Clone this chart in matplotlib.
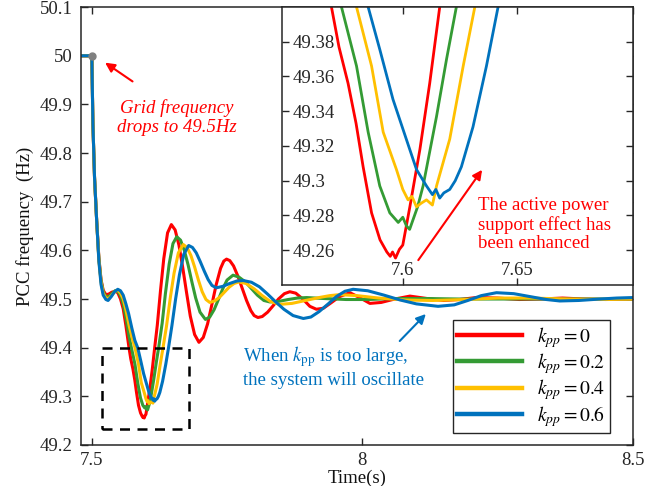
import matplotlib
matplotlib.use("Agg")
import matplotlib.pyplot as plt

plt.rcParams['font.family'] = ['Liberation Serif', 'DejaVu Serif']
plt.rcParams['mathtext.fontset'] = 'stix'

# ---------------- data ----------------
t_red = [7.48, 7.50, 7.502, 7.505, 7.509, 7.513, 7.517, 7.521, 7.526, 7.531, 7.537, 7.543, 7.548,
         7.553, 7.558, 7.563, 7.5687, 7.572, 7.576, 7.5795, 7.5826, 7.5863, 7.59, 7.593, 7.5945,
         7.5955, 7.5968, 7.5985, 7.600, 7.6031, 7.6075, 7.6118, 7.6162, 7.621, 7.627, 7.633, 7.640,
         7.647, 7.654, 7.661, 7.668, 7.675, 7.682, 7.690, 7.698, 7.706, 7.714, 7.722, 7.730, 7.738,
         7.744, 7.749, 7.755, 7.762, 7.770, 7.778, 7.786, 7.794, 7.800, 7.807, 7.815, 7.825, 7.835,
         7.845, 7.856, 7.866, 7.877, 7.890, 7.903, 7.915, 7.928, 7.942, 7.958, 7.977, 7.995, 8.014,
         8.035, 8.06, 8.088, 8.12, 8.15, 8.18, 8.21, 8.25, 8.29, 8.33, 8.37, 8.41, 8.45, 8.5]
f_red = [50.0, 50.0, 49.86, 49.75, 49.66, 49.585, 49.54, 49.518, 49.509, 49.510, 49.514, 49.516, 49.513,
         49.50, 49.48, 49.445, 49.40, 49.377, 49.356, 49.333, 49.308, 49.2815, 49.266, 49.259, 49.2565,
         49.259, 49.2555, 49.2605, 49.263, 49.285, 49.318, 49.356, 49.40, 49.446, 49.518, 49.583, 49.636,
         49.653, 49.642, 49.611, 49.565, 49.514, 49.465, 49.427, 49.411, 49.421, 49.449, 49.489, 49.530, 49.563,
         49.578, 49.582, 49.579, 49.568, 49.547, 49.522, 49.497, 49.476, 49.466, 49.462, 49.464, 49.473, 49.486,
         49.500, 49.511, 49.515, 49.512, 49.500, 49.485, 49.479, 49.481, 49.492, 49.505, 49.513, 49.503, 49.491,
         49.493, 49.500, 49.506, 49.501, 49.497, 49.499, 49.503, 49.502, 49.499, 49.500, 49.502, 49.500, 49.499, 49.500]

t_green = [7.48, 7.50, 7.502, 7.505, 7.509, 7.513, 7.517, 7.521, 7.526, 7.531, 7.537, 7.543, 7.548,
           7.553, 7.558, 7.563, 7.5685, 7.5731, 7.5797, 7.5848, 7.5899, 7.5943, 7.598, 7.600, 7.6016,
           7.603, 7.6045, 7.6065, 7.6089, 7.6148, 7.6192, 7.6235, 7.630, 7.636, 7.643, 7.650, 7.657,
           7.664, 7.671, 7.678, 7.685, 7.692, 7.700, 7.710, 7.718, 7.726, 7.734, 7.742, 7.750, 7.761,
           7.772, 7.784, 7.795, 7.806, 7.818, 7.829, 7.845, 7.863, 7.880, 7.897, 7.93, 7.97, 8.01,
           8.06, 8.12, 8.18, 8.25, 8.33, 8.41, 8.5]
f_green = [50.0, 50.0, 49.86, 49.75, 49.66, 49.583, 49.538, 49.515, 49.505, 49.505, 49.511, 49.517, 49.516,
           49.507, 49.49, 49.462, 49.425, 49.40, 49.366, 49.328, 49.297, 49.2815, 49.276, 49.279, 49.274,
           49.272, 49.2776, 49.285, 49.297, 49.337, 49.37, 49.40, 49.45, 49.511, 49.572, 49.614, 49.628,
           49.621, 49.600, 49.570, 49.535, 49.502, 49.473, 49.458, 49.463, 49.478, 49.499, 49.521, 49.539, 49.549,
           49.545, 49.535, 49.5215, 49.508, 49.497, 49.494, 49.495, 49.499, 49.502, 49.503, 49.501, 49.499, 49.499,
           49.501, 49.501, 49.500, 49.500, 49.500, 49.500, 49.500]

t_yellow = [7.48, 7.50, 7.502, 7.505, 7.509, 7.513, 7.517, 7.521, 7.526, 7.531, 7.537, 7.543, 7.548,
            7.553, 7.558, 7.563, 7.569, 7.575, 7.5797, 7.5863, 7.5914, 7.5972, 7.600, 7.6023, 7.604,
            7.606, 7.608, 7.6104, 7.613, 7.6148, 7.6206, 7.6265, 7.6316, 7.638, 7.645, 7.652, 7.660,
            7.669, 7.676, 7.683, 7.690, 7.697, 7.704, 7.711, 7.718, 7.727, 7.736, 7.745, 7.754, 7.763,
            7.772, 7.785, 7.800, 7.815, 7.830, 7.847, 7.87, 7.895, 7.92, 7.94, 7.958, 7.99, 8.03,
            8.08, 8.13, 8.19, 8.25, 8.31, 8.38, 8.44, 8.5]
f_yellow = [50.0, 50.0, 49.86, 49.75, 49.66, 49.58, 49.535, 49.512, 49.502, 49.501, 49.508, 49.516, 49.518,
            49.512, 49.50, 49.478, 49.445, 49.418, 49.40, 49.366, 49.328, 49.3065, 49.295, 49.289, 49.291,
            49.285, 49.287, 49.289, 49.286, 49.297, 49.324, 49.366, 49.40, 49.444, 49.502, 49.553, 49.595,
            49.612, 49.606, 49.590, 49.566, 49.539, 49.515, 49.499, 49.493, 49.496, 49.5035, 49.514, 49.5245, 49.532,
            49.535, 49.532, 49.521, 49.507, 49.495, 49.489, 49.491, 49.497, 49.503, 49.507, 49.509, 49.507, 49.502,
            49.498, 49.497, 49.499, 49.502, 49.502, 49.500, 49.499, 49.500]

t_blue = [7.48, 7.50, 7.502, 7.505, 7.509, 7.513, 7.517, 7.521, 7.526, 7.530, 7.536, 7.542, 7.548,
          7.553, 7.558, 7.563, 7.568, 7.574, 7.5795, 7.5848, 7.5899, 7.5957, 7.6016, 7.606, 7.6104,
          7.613, 7.6145, 7.6162, 7.618, 7.6206, 7.623, 7.6257, 7.6308, 7.6367, 7.6418, 7.648, 7.655,
          7.662, 7.670, 7.679, 7.686, 7.693, 7.700, 7.708, 7.715, 7.722, 7.730, 7.742, 7.755, 7.768,
          7.780, 7.795, 7.810, 7.825, 7.840, 7.855, 7.872, 7.891, 7.905, 7.920, 7.937, 7.952, 7.968,
          7.983, 8.01, 8.04, 8.07, 8.10, 8.14, 8.17, 8.195, 8.22, 8.248, 8.28, 8.31, 8.34, 8.365,
          8.40, 8.44, 8.47, 8.5]
f_blue = [50.0, 50.0, 49.86, 49.75, 49.66, 49.578, 49.53, 49.508, 49.499, 49.497, 49.505, 49.515, 49.520,
          49.517, 49.508, 49.49, 49.47, 49.44, 49.415, 49.40, 49.3756, 49.3468, 49.3237, 49.3065, 49.297,
          49.292, 49.295, 49.290, 49.293, 49.295, 49.300, 49.308, 49.331, 49.366, 49.40, 49.445, 49.501,
          49.550, 49.592, 49.610, 49.606, 49.595, 49.578, 49.557, 49.540, 49.528, 49.523, 49.526, 49.532, 49.537,
          49.538, 49.5345, 49.525, 49.510, 49.494, 49.479, 49.466, 49.460, 49.463, 49.474, 49.490, 49.505, 49.516,
          49.520, 49.517, 49.508, 49.498, 49.490, 49.485, 49.488, 49.497, 49.507, 49.513, 49.511, 49.505, 49.499, 49.496,
          49.497, 49.500, 49.502, 49.503]

series_labels = [r'$k_{pp}=0$', r'$k_{pp}=0.2$', r'$k_{pp}=0.4$', r'$k_{pp}=0.6$']
series_colors = ['#FF0000', '#349B34', '#FFC000', '#0072BD']

yticks_main = [49.2, 49.3, 49.4, 49.5, 49.6, 49.7, 49.8, 49.9, 50.0, 50.1]
ytick_labels_main = ['49.2', '49.3', '49.4', '49.5', '49.6', '49.7', '49.8', '49.9', '50', '50.1']
xticks_main = [7.5, 8.0, 8.5]
xtick_labels_main = ['7.5', '8', '8.5']

yticks_inset = [49.26, 49.28, 49.30, 49.32, 49.34, 49.36, 49.38]
ytick_labels_inset = ['49.26', '49.28', '49.3', '49.32', '49.34', '49.36', '49.38']
xticks_inset = [7.6, 7.65]
xtick_labels_inset = ['7.6', '7.65']

step_point_t = [7.5]
step_point_f = [50.0]
zoom_box_t = [7.518, 7.68]
zoom_box_f = [49.233, 49.40]

# ---------------- figure ----------------
fig = plt.figure(figsize=(6.64, 4.86), dpi=100)
ax = fig.add_axes([0.122, 0.0844, 0.831, 0.901])

series = [(t_red, f_red), (t_green, f_green), (t_yellow, f_yellow), (t_blue, f_blue)]
for (tt, ff), c, lab in zip(series, series_colors, series_labels):
    ax.plot(tt, ff, color=c, lw=2.2, label=lab, solid_joinstyle='round')

ax.plot(step_point_t, step_point_f, 'o', color='#808080', ms=5, zorder=5)

bx = [zoom_box_t[0], zoom_box_t[1], zoom_box_t[1], zoom_box_t[0], zoom_box_t[0]]
by = [zoom_box_f[0], zoom_box_f[0], zoom_box_f[1], zoom_box_f[1], zoom_box_f[0]]
ax.plot(bx, by, color='black', lw=1.8, ls=(0, (4, 3)))

ax.set_xlim(7.48, 8.5)
ax.set_ylim(49.2, 50.1)
ax.set_xticks(xticks_main)
ax.set_xticklabels(xtick_labels_main)
ax.set_yticks(yticks_main)
ax.set_yticklabels(ytick_labels_main)
ax.tick_params(direction='in', top=True, right=True, labelsize=13.5,
               colors='#262626', length=5, width=1)
ax.tick_params(axis='y', pad=6)
ax.tick_params(axis='x', pad=5)
for s in ax.spines.values():
    s.set_color('#262626')
    s.set_linewidth(1.1)
ax.set_xlabel('Time(s)', fontsize=13.5, labelpad=0.5, color='#111111')
ax.set_ylabel('PCC frequency  (Hz)', fontsize=13.5, labelpad=4, color='#111111')

# annotations in main axes
ax.annotate('', xy=(7.5203, 49.989), xytext=(7.5795, 49.944),
            arrowprops=dict(arrowstyle='-|>', color='#FF0000', lw=1.5, mutation_scale=14))
ax.text(7.657, 49.872, 'Grid frequency\ndrops to 49.5Hz', color='#FF0000', fontsize=13.5,
        style='italic', ha='center', va='center', linespacing=1.15)

ax.annotate('', xy=(8.121, 49.4733), xytext=(8.0656, 49.4096),
            arrowprops=dict(arrowstyle='-|>', color='#0072BD', lw=1.5, mutation_scale=14))
ax.text(7.779, 49.361, 'When $k_{\\mathrm{pp}}$ is too large,\nthe system will oscillate',
        color='#0072BD', fontsize=13.5, ha='left', va='center', linespacing=1.2)

leg = ax.legend(loc='lower right', bbox_to_anchor=(0.958, 0.027), borderaxespad=0,
                fontsize=14, handlelength=3.3, handletextpad=0.8, labelspacing=0.08,
                fancybox=False, edgecolor='#262626', framealpha=1, borderpad=0.22)
leg.get_frame().set_linewidth(1.0)
for l in leg.get_lines():
    l.set_linewidth(3.2)

# ---------------- inset ----------------
ins = fig.add_axes([0.4247, 0.4136, 0.5286, 0.572])
for (tt, ff), c in zip(series, series_colors):
    ins.plot(tt, ff, color=c, lw=2.0, solid_joinstyle='round')
ins.set_xlim(7.547, 7.701)
ins.set_ylim(49.24, 49.40)
ins.set_xticks(xticks_inset)
ins.set_xticklabels(xtick_labels_inset)
ins.set_yticks(yticks_inset)
ins.set_yticklabels(ytick_labels_inset)
ins.tick_params(direction='in', top=True, right=True, labelsize=13.5,
                colors='#262626', length=5, width=1)
ins.tick_params(axis='y', pad=-7.5)
ins.tick_params(axis='x', pad=-4.5)
for lab in ins.get_yticklabels():
    lab.set_horizontalalignment('left')
for lab in ins.get_xticklabels():
    lab.set_verticalalignment('bottom')
for s in ins.spines.values():
    s.set_color('#262626')
    s.set_linewidth(1.1)

ins.annotate('', xy=(7.6355, 49.3076), xytext=(7.6061, 49.253),
             arrowprops=dict(arrowstyle='-|>', color='#FF0000', lw=1.5, mutation_scale=14))
ins.text(7.6329, 49.2748, 'The active power\nsupport effect has\nbeen enhanced',
         color='#FF0000', fontsize=13.5, ha='left', va='center', linespacing=1.15)

fig.savefig('out.png', dpi=100)
